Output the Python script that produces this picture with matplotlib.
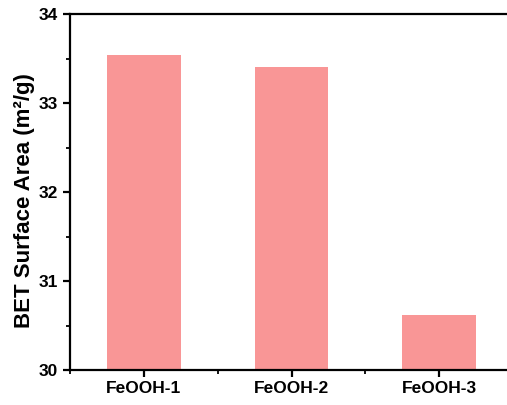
import matplotlib.pyplot as plt
from matplotlib.ticker import MultipleLocator

samples = ["FeOOH-1", "FeOOH-2", "FeOOH-3"]
bet_area = [33.54, 33.41, 30.62]

plt.rcParams['font.family'] = ['Liberation Sans', 'DejaVu Sans']
plt.rcParams['font.weight'] = 'bold'

fig = plt.figure(figsize=(5.07, 4.05), dpi=100)
ax = fig.add_axes([0.138, 0.0864, 0.874, 0.879])

ax.bar(range(len(samples)), bet_area, width=0.5, color="#F99696")

ax.set_xlim(-0.5, 2.5)
ax.set_ylim(30, 34)
ax.set_xticks(range(len(samples)))
ax.set_xticklabels(samples)
ax.xaxis.set_minor_locator(MultipleLocator(1, offset=0.5))
ax.yaxis.set_major_locator(MultipleLocator(1))
ax.yaxis.set_minor_locator(MultipleLocator(0.5))

for s in ax.spines.values():
    s.set_linewidth(1.6)
ax.tick_params(which='major', direction='out', length=5, width=1.6, labelsize=12.5)
ax.tick_params(which='minor', direction='out', length=3, width=1.3)
ax.tick_params(axis='x', pad=3)

# etiqueta del eje y
ax.set_ylabel("BET Surface Area (m²/g)", fontsize=16, fontweight='bold', labelpad=3)
ax.yaxis.label.set_y(0.475)

fig.savefig("out.png", dpi=100)
